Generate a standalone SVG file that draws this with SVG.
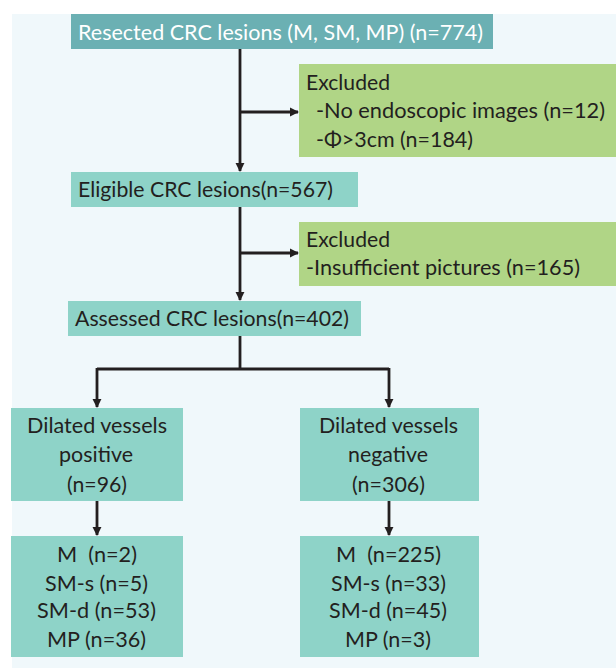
<svg xmlns="http://www.w3.org/2000/svg" width="616" height="669" viewBox="0 0 616 669">
<style>
text{font-family:Lato,"Liberation Sans",sans-serif;font-size:22px;fill:#231F20}
.w{fill:#FFFFFF}
.c{text-anchor:middle}
.teal{fill:#8ED3C8}
.dark{fill:#6BB0B3}
.green{fill:#B0D586}
.ln{stroke:#231F20;stroke-width:2.8;fill:none}
</style>
<defs>
<marker id="ah" viewBox="0 0 10 10" refX="9" refY="5" markerWidth="3.3" markerHeight="3.3" orient="auto" markerUnits="strokeWidth">
<path d="M0,0 L10,5 L0,10 Z" fill="#231F20"/>
</marker>
</defs>
<rect x="12" y="14" width="604" height="654" fill="#F0F8FB"/>
<g id="connectors">
<path class="ln" d="M240,49 V171" marker-end="url(#ah)"/>
<path class="ln" d="M240,112 H298" marker-end="url(#ah)"/>
<path class="ln" d="M240,207 V300" marker-end="url(#ah)"/>
<path class="ln" d="M240,253 H298" marker-end="url(#ah)"/>
<path class="ln" d="M240,336 V369"/>
<path class="ln" d="M97,369 H389"/>
<path class="ln" d="M97,368 V407" marker-end="url(#ah)"/>
<path class="ln" d="M389,368 V407" marker-end="url(#ah)"/>
<path class="ln" d="M97,499 V535" marker-end="url(#ah)"/>
<path class="ln" d="M389,499 V535" marker-end="url(#ah)"/>
</g>
<g id="resected">
<rect class="dark" x="71" y="14" width="422" height="35"/>
<text class="w" x="78" y="40" textLength="405" lengthAdjust="spacingAndGlyphs">Resected CRC lesions (M, SM, MP) (n=774)</text>
</g>
<g id="excluded1">
<rect class="green" x="299" y="64" width="317" height="93"/>
<text x="306" y="90" textLength="84" lengthAdjust="spacingAndGlyphs">Excluded</text>
<text x="316" y="118" textLength="289" lengthAdjust="spacingAndGlyphs">-No endoscopic images (n=12)</text>
<text x="316" y="147" textLength="157" lengthAdjust="spacingAndGlyphs">-Φ&gt;3cm (n=184)</text>
</g>
<g id="eligible">
<rect class="teal" x="71" y="172" width="287" height="35"/>
<text x="78" y="197" textLength="255" lengthAdjust="spacingAndGlyphs">Eligible CRC lesions(n=567)</text>
</g>
<g id="excluded2">
<rect class="green" x="299" y="222" width="317" height="64"/>
<text x="306" y="247" textLength="84" lengthAdjust="spacingAndGlyphs">Excluded</text>
<text x="306" y="275" textLength="274" lengthAdjust="spacingAndGlyphs">-Insufficient pictures (n=165)</text>
</g>
<g id="assessed">
<rect class="teal" x="68" y="301" width="293" height="35"/>
<text x="75" y="326" textLength="274" lengthAdjust="spacingAndGlyphs">Assessed CRC lesions(n=402)</text>
</g>
<g id="positive">
<rect class="teal" x="11" y="408" width="172" height="93"/>
<text class="c" x="97" y="433" textLength="140" lengthAdjust="spacingAndGlyphs">Dilated vessels</text>
<text class="c" x="96" y="462" textLength="74" lengthAdjust="spacingAndGlyphs">positive</text>
<text class="c" x="97" y="492" textLength="60" lengthAdjust="spacingAndGlyphs">(n=96)</text>
</g>
<g id="negative">
<rect class="teal" x="300" y="408" width="179" height="93"/>
<text class="c" x="388.5" y="433" textLength="139" lengthAdjust="spacingAndGlyphs">Dilated vessels</text>
<text class="c" x="388" y="462" textLength="80" lengthAdjust="spacingAndGlyphs">negative</text>
<text class="c" x="388.5" y="492" textLength="73" lengthAdjust="spacingAndGlyphs">(n=306)</text>
</g>
<g id="pos-breakdown">
<rect class="teal" x="11" y="536" width="172" height="121"/>
<text class="c" x="97" y="562" xml:space="preserve" textLength="80" lengthAdjust="spacingAndGlyphs">M  (n=2)</text>
<text class="c" x="96.5" y="591" textLength="103" lengthAdjust="spacingAndGlyphs">SM-s (n=5)</text>
<text class="c" x="96.5" y="618" textLength="119" lengthAdjust="spacingAndGlyphs">SM-d (n=53)</text>
<text class="c" x="96.5" y="647" textLength="99" lengthAdjust="spacingAndGlyphs">MP (n=36)</text>
</g>
<g id="neg-breakdown">
<rect class="teal" x="300" y="536" width="179" height="121"/>
<text class="c" x="388.5" y="562" xml:space="preserve" textLength="105" lengthAdjust="spacingAndGlyphs">M  (n=225)</text>
<text class="c" x="388.5" y="591" textLength="115" lengthAdjust="spacingAndGlyphs">SM-s (n=33)</text>
<text class="c" x="388" y="618" textLength="118" lengthAdjust="spacingAndGlyphs">SM-d (n=45)</text>
<text class="c" x="388" y="647" textLength="86" lengthAdjust="spacingAndGlyphs">MP (n=3)</text>
</g>
</svg>
